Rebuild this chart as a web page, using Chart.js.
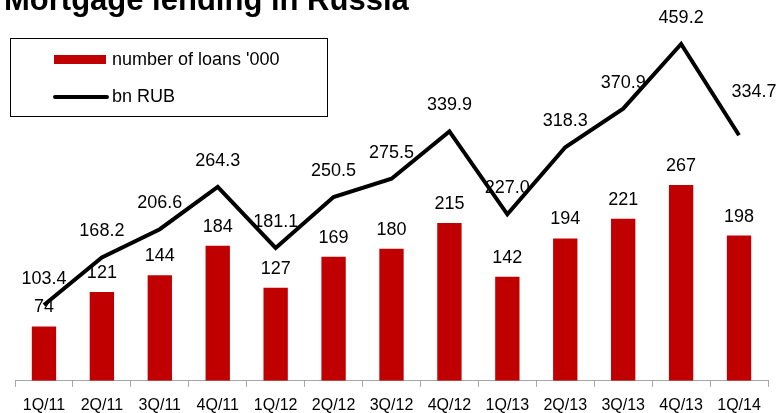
<!DOCTYPE html>
<html>
<head>
<meta charset="utf-8">
<script src="https://cdn.jsdelivr.net/npm/chart.js@4.4.0/dist/chart.umd.min.js"></script>
<style>
  html, body { margin: 0; padding: 0; background: #fff; }
  #wrap { position: relative; width: 779px; height: 413px; }
</style>
</head>
<body>
<div id="wrap"><canvas id="mortgage"></canvas></div>
<script>
const quarters = ['1Q/11','2Q/11','3Q/11','4Q/11','1Q/12','2Q/12','3Q/12','4Q/12','1Q/13','2Q/13','3Q/13','4Q/13','1Q/14'];
const loans = [74, 121, 144, 184, 127, 169, 180, 215, 142, 194, 221, 267, 198];
const rubles = [103.4, 168.2, 206.6, 264.3, 181.1, 250.5, 275.5, 339.9, 227.0, 318.3, 370.9, 459.2, 334.7];

const FONT = '"Liberation Sans", Arial, sans-serif';
const RED = '#c00000';

// title sits partly above the canvas edge, legend box is drawn by hand
const decor = {
  id: 'decor',
  beforeDatasetsDraw(chart) {
    const ctx = chart.ctx;
    ctx.save();
    ctx.fillStyle = '#000';
    ctx.font = '18px ' + FONT;
    ctx.textAlign = 'center';
    ctx.textBaseline = 'middle';
    chart.getDatasetMeta(1).data.forEach((bar, i) => {
      ctx.fillText(String(loans[i]), bar.x, bar.y - 19);
    });
    const pts = chart.getDatasetMeta(0).data;
    pts.forEach((pt, i) => {
      // last label is pushed off the falling line
      const last = i === pts.length - 1;
      ctx.fillText(rubles[i].toFixed(1), pt.x + (last ? 15 : 0), pt.y - (last ? 43 : 26));
    });
    ctx.restore();
  },
  afterDraw(chart) {
    const ctx = chart.ctx;
    ctx.save();
    ctx.fillStyle = '#000';
    ctx.font = 'bold 31px ' + FONT;
    ctx.textAlign = 'left';
    ctx.textBaseline = 'alphabetic';
    ctx.fillText('Mortgage lending in Russia', 4, 10);

    ctx.strokeStyle = '#000';
    ctx.lineWidth = 1;
    ctx.strokeRect(10.5, 38.5, 317, 78);
    ctx.fillStyle = RED;
    ctx.fillRect(54, 55, 52, 9);
    ctx.beginPath();
    ctx.lineCap = 'round';
    ctx.lineWidth = 4;
    ctx.moveTo(55, 97);
    ctx.lineTo(107, 97);
    ctx.stroke();
    ctx.fillStyle = '#000';
    ctx.font = '18px ' + FONT;
    ctx.textBaseline = 'middle';
    ctx.fillText("number of loans '000", 112, 60);
    ctx.fillText('bn RUB', 112, 97);
    ctx.restore();
  }
};

new Chart(document.getElementById('mortgage'), {
  data: {
    labels: quarters,
    datasets: [{
      type: 'line',
      label: 'bn RUB',
      data: rubles,
      borderColor: '#000',
      borderWidth: 4,
      borderJoinStyle: 'miter',
      pointRadius: 0,
      tension: 0,
      order: 0
    }, {
      type: 'bar',
      label: "number of loans '000",
      data: loans,
      backgroundColor: RED,
      barPercentage: 0.42,
      categoryPercentage: 1,
      order: 1
    }]
  },
  options: {
    responsive: true,
    maintainAspectRatio: false,
    animation: false,
    layout: { padding: { top: 14, left: 15, right: 11, bottom: -11 } },
    plugins: { legend: { display: false }, tooltip: { enabled: false } },
    scales: {
      x: {
        offset: true,
        grid: { offset: true, drawOnChartArea: false, tickLength: 6, color: '#a6a6a6' },
        border: { color: '#a6a6a6' },
        ticks: { padding: 9, color: '#000', font: { family: FONT, size: 16 }, maxRotation: 0 }
      },
      y: { display: false, min: 0, max: 500 }
    }
  },
  plugins: [decor]
});
</script>
</body>
</html>
